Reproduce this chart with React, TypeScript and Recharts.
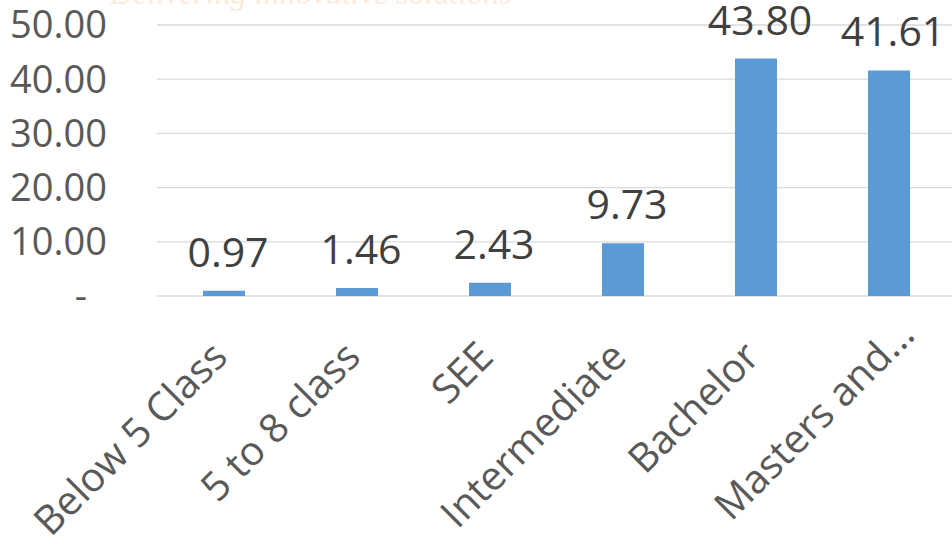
import React from "react";
import { BarChart, Bar, XAxis, YAxis, CartesianGrid, LabelList } from "recharts";

// Share of respondents by education level (%)
const categories = ["Below 5 Class", "5 to 8 class", "SEE", "Intermediate", "Bachelor", "Masters and..."];
const shares = [0.97, 1.46, 2.43, 9.73, 43.8, 41.61];
const yTicks = [0, 10, 20, 30, 40, 50];

const data = categories.map((name, i) => ({ name, share: shares[i] }));

const FONT = "'Open Sans', 'Noto Sans', sans-serif";
const BAR_COLOR = "#5B9BD5";

const fmtTick = (v: number) => (v === 0 ? "-" : v.toFixed(2));

const YTick = (props: any) => {
  const { x, y, payload } = props;
  const isZero = payload.value === 0;
  return (
    <text
      x={x + (isZero ? -20 : 0)}
      y={y}
      dy="0.35em"
      textAnchor="end"
      fill="#595959"
      fontSize={38}
      fontFamily={FONT}
    >
      {fmtTick(payload.value)}
    </text>
  );
};

// Rotated category label; a trailing ellipsis hangs past the anchor point.
const XTick = (props: any) => {
  const { x, y, payload } = props;
  const label: string = String(payload.value);
  const hasEllipsis = label.endsWith("...");
  const main = hasEllipsis ? label.slice(0, -3) : label;
  return (
    <g transform={`translate(${x + 6},${y}) rotate(-45)`}>
      <text x={0} y={0} textAnchor="end" fill="#595959" fontSize={40} fontFamily={FONT}>
        {main}
      </text>
      {hasEllipsis && (
        <text x={0} y={0} textAnchor="start" fill="#595959" fontSize={40} fontFamily={FONT}>
          ...
        </text>
      )}
    </g>
  );
};

const ValueLabel = (props: any) => {
  const { x, y, width, value } = props;
  return (
    <text
      x={Number(x) + Number(width) / 2 + 4}
      y={Number(y) - 24}
      textAnchor="middle"
      fill="#404040"
      fontSize={41}
      fontFamily={FONT}
    >
      {Number(value).toFixed(2)}
    </text>
  );
};

export default function App() {
  return (
    <div
      style={{
        position: "absolute",
        left: 0,
        top: 0,
        width: 952,
        height: 544,
        overflow: "hidden",
        background: "#ffffff",
      }}
    >
      <div
        style={{
          position: "absolute",
          left: 110,
          top: -26,
          fontFamily: "'Liberation Serif', serif",
          fontStyle: "italic",
          fontSize: 32,
          color: "#fcebdc",
          whiteSpace: "nowrap",
          lineHeight: "38px",
        }}
      >
        Delivering innovative solutions
      </div>
      <BarChart
        width={960}
        height={544}
        data={data}
        margin={{ top: 25, right: 5, bottom: 0, left: 0 }}
        barSize={42}
      >
        <CartesianGrid vertical={false} stroke="#D9D9D9" strokeWidth={1.3} />
        <XAxis
          dataKey="name"
          axisLine={false}
          tickLine={false}
          tickSize={0}
          tickMargin={63}
          height={248}
          interval={0}
          tick={<XTick />}
        />
        <YAxis
          domain={[0, 50]}
          ticks={yTicks}
          width={157}
          axisLine={false}
          tickLine={false}
          tickSize={0}
          tickMargin={50}
          tick={<YTick />}
        />
        <Bar dataKey="share" fill={BAR_COLOR} isAnimationActive={false}>
          <LabelList dataKey="share" content={<ValueLabel />} />
        </Bar>
      </BarChart>
    </div>
  );
}
